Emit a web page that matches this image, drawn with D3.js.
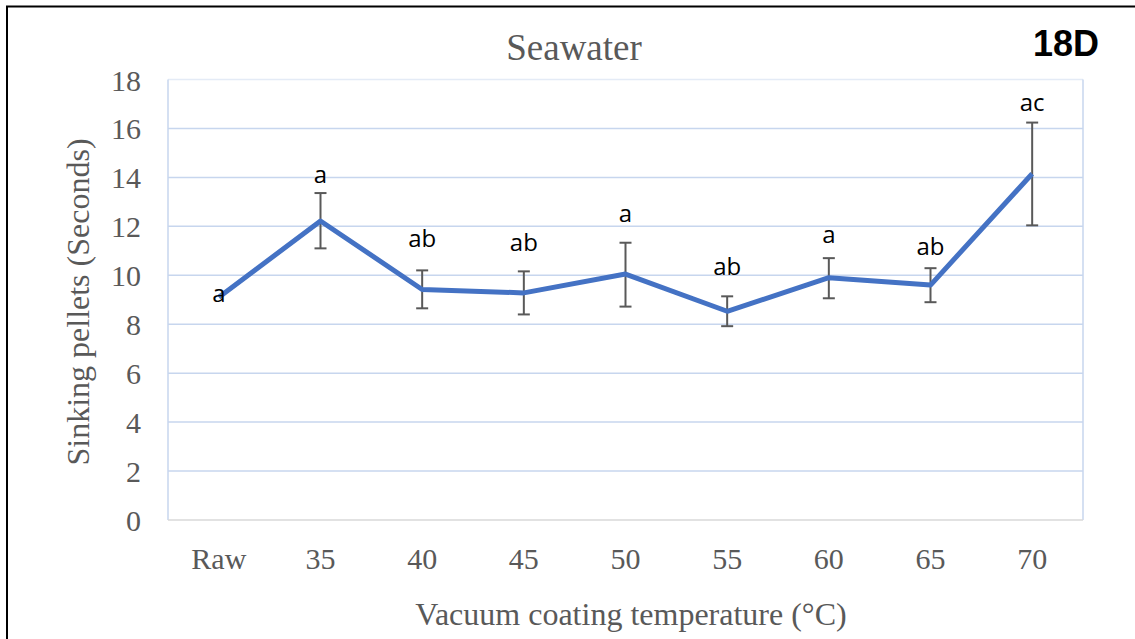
<!DOCTYPE html>
<html><head><meta charset="utf-8">
<script src="https://cdn.jsdelivr.net/npm/d3@7"></script>
<style>body{margin:0;background:#fff}svg{display:block}</style>
</head><body>
<svg id="c" width="1135" height="639"></svg>
<script>
const categories = ["Raw","35","40","45","50","55","60","65","70"];
const means = [9.1, 12.22, 9.42, 9.28, 10.05, 8.53, 9.9, 9.6, 14.15];
const errUpper = [9.1, 13.36, 10.2, 10.16, 11.33, 9.14, 10.7, 10.29, 16.24];
const errLower = [9.1, 11.1, 8.65, 8.4, 8.72, 7.92, 9.06, 8.9, 12.04];
const sigLabels = ["a","a","ab","ab","a","ab","a","ab","ac"];
const labelBaselineValues = [8.9, 13.76, 11.14, 10.98, 12.16, 10.0, 11.31, 10.82, 16.73];
const yTicks = [0,2,4,6,8,10,12,14,16,18];

const svg = d3.select("#c");
const L = 168, R = 1083, T = 79.5, B = 520;
const x = d3.scaleBand().domain(categories).range([L, R]);
const y = d3.scaleLinear().domain([0, 18]).range([B, T]);

// outer frame
svg.append("rect").attr("x",7).attr("y",6.5).attr("width",1140).attr("height",650)
  .attr("fill","none").attr("stroke","#000").attr("stroke-width",2);

// gridlines
svg.append("g").selectAll("line").data(yTicks.filter(d=>d>0)).join("line")
  .attr("x1",L).attr("x2",R).attr("y1",d=>y(d)).attr("y2",d=>y(d))
  .attr("stroke",d=>d===18?"#e4ebf6":"#c7d6ee").attr("stroke-width",1.5);
svg.append("line").attr("x1",L).attr("x2",L).attr("y1",T).attr("y2",B).attr("stroke","#c7d6ee").attr("stroke-width",1.5);
svg.append("line").attr("x1",R).attr("x2",R).attr("y1",T).attr("y2",B).attr("stroke","#c7d6ee").attr("stroke-width",1.5);
svg.append("line").attr("x1",L).attr("x2",R).attr("y1",B).attr("y2",B).attr("stroke","#d9d9d9").attr("stroke-width",1.5);

// y tick labels
const yAxis = d3.axisLeft(y).tickValues(yTicks).tickSize(0).tickPadding(0);
const gy = svg.append("g").attr("transform",`translate(${L-27},0)`).call(yAxis);
gy.select(".domain").remove();
gy.selectAll("text").attr("font-family","Liberation Serif").attr("font-size",30).attr("fill","#595959").attr("dy","0.35em");

// x tick labels
const xAxis = d3.axisBottom(x).tickSize(0).tickPadding(0);
const gx = svg.append("g").attr("transform",`translate(0,${B})`).call(xAxis);
gx.select(".domain").remove();
gx.selectAll("text").attr("font-family","Liberation Serif").attr("font-size",30).attr("fill","#595959")
  .attr("y",49).attr("dy",null);

const cx = c => x(c) + x.bandwidth()/2;

// error bars
const eg = svg.append("g").attr("stroke","#595959").attr("stroke-width",2);
categories.forEach((c,i)=>{
  if (errUpper[i] === errLower[i]) return;
  eg.append("line").attr("x1",cx(c)).attr("x2",cx(c)).attr("y1",y(errUpper[i])).attr("y2",y(errLower[i]));
  eg.append("line").attr("x1",cx(c)-6).attr("x2",cx(c)+6).attr("y1",y(errUpper[i])).attr("y2",y(errUpper[i]));
  eg.append("line").attr("x1",cx(c)-6).attr("x2",cx(c)+6).attr("y1",y(errLower[i])).attr("y2",y(errLower[i]));
});

// line
const line = d3.line().x((d,i)=>cx(categories[i])).y(d=>y(d));
svg.append("path").datum(means).attr("d",line).attr("fill","none")
  .attr("stroke","#4472C4").attr("stroke-width",5).attr("stroke-linejoin","round");

// significance labels
svg.append("g").selectAll("text").data(sigLabels).join("text")
  .attr("x",(d,i)=>cx(categories[i])).attr("y",(d,i)=>y(labelBaselineValues[i]))
  .attr("text-anchor","middle")
  .attr("font-family","Open Sans, Liberation Sans").attr("font-size",24).attr("fill","#000")
  .text(d=>d);

// title
svg.append("text").attr("x",574).attr("y",60).attr("text-anchor","middle")
  .attr("font-family","Liberation Serif").attr("font-size",37).attr("fill","#595959").text("Seawater");
svg.append("text").attr("x",1099).attr("y",56).attr("text-anchor","end")
  .attr("font-family","Liberation Sans").attr("font-weight","bold").attr("font-size",36).attr("fill","#000").text("18D");

// axis titles
svg.append("text").attr("x",631).attr("y",625).attr("text-anchor","middle")
  .attr("font-family","Liberation Serif").attr("font-size",32).attr("fill","#595959").text("Vacuum coating temperature (°C)");
svg.append("text").attr("transform",`translate(89,302) rotate(-90)`).attr("text-anchor","middle")
  .attr("font-family","Liberation Serif").attr("font-size",32).attr("fill","#595959").text("Sinking pellets (Seconds)");
</script>
</body></html>
